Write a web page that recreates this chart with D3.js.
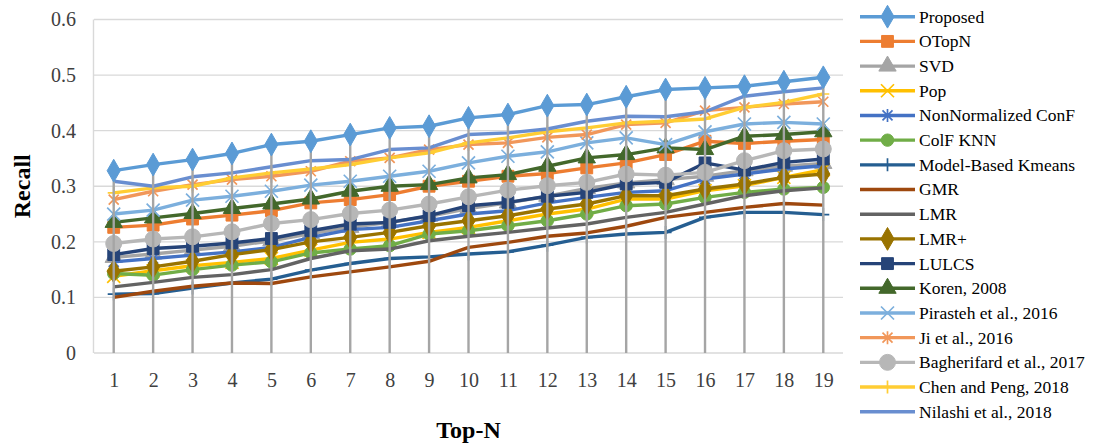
<!DOCTYPE html>
<html><head><meta charset="utf-8">
<script src="https://cdn.jsdelivr.net/npm/d3@7"></script>
<style>body{margin:0;background:#fff}svg{display:block}</style>
</head><body>
<svg id="chart" width="1101" height="445"></svg>
<script>
const categories = ["1","2","3","4","5","6","7","8","9","10","11","12","13","14","15","16","17","18","19"];
const yTicks = [0,0.1,0.2,0.3,0.4,0.5,0.6];
const seriesNames = ["Proposed","OTopN","SVD","Pop","NonNormalized ConF","ColF KNN","Model-Based Kmeans","GMR","LMR","LMR+","LULCS","Koren, 2008","Pirasteh et al., 2016","Ji et al., 2016","Bagherifard et al., 2017","Chen and Peng, 2018","Nilashi et al., 2018"];
const proposed   = [0.328,0.339,0.348,0.359,0.375,0.381,0.393,0.405,0.408,0.423,0.429,0.445,0.447,0.461,0.474,0.477,0.480,0.488,0.496];
const oTopN      = [0.226,0.230,0.241,0.248,0.256,0.270,0.276,0.285,0.300,0.309,0.318,0.323,0.333,0.342,0.357,0.381,0.377,0.381,0.384];
const svd        = [0.172,0.178,0.185,0.192,0.202,0.215,0.226,0.235,0.246,0.260,0.270,0.282,0.296,0.306,0.312,0.318,0.328,0.336,0.341];
const pop        = [0.138,0.148,0.157,0.163,0.170,0.185,0.199,0.205,0.217,0.226,0.238,0.250,0.259,0.277,0.277,0.292,0.301,0.316,0.330];
const nonNorm    = [0.164,0.170,0.176,0.182,0.190,0.208,0.222,0.226,0.238,0.250,0.256,0.270,0.280,0.289,0.292,0.313,0.322,0.331,0.337];
const colfKnn    = [0.143,0.140,0.150,0.158,0.164,0.180,0.187,0.193,0.214,0.220,0.229,0.238,0.250,0.265,0.268,0.280,0.289,0.295,0.298];
const kmeans     = [0.106,0.107,0.117,0.126,0.133,0.149,0.161,0.170,0.173,0.178,0.182,0.194,0.208,0.214,0.217,0.244,0.253,0.253,0.249];
const gmr        = [0.100,0.111,0.120,0.126,0.125,0.137,0.146,0.155,0.165,0.190,0.199,0.210,0.216,0.228,0.244,0.253,0.262,0.269,0.266];
const lmr        = [0.119,0.127,0.136,0.141,0.150,0.170,0.184,0.187,0.202,0.210,0.217,0.225,0.232,0.244,0.253,0.268,0.283,0.292,0.297];
const lmrPlus    = [0.147,0.155,0.165,0.177,0.186,0.200,0.208,0.217,0.229,0.238,0.247,0.259,0.268,0.283,0.283,0.295,0.304,0.316,0.322];
const lulcs      = [0.177,0.188,0.192,0.198,0.206,0.220,0.232,0.235,0.247,0.265,0.271,0.282,0.289,0.304,0.307,0.342,0.329,0.343,0.349];
const koren      = [0.235,0.243,0.251,0.260,0.268,0.277,0.291,0.300,0.303,0.315,0.321,0.336,0.351,0.357,0.369,0.366,0.390,0.393,0.398];
const pirasteh   = [0.250,0.257,0.275,0.282,0.291,0.302,0.309,0.318,0.327,0.342,0.354,0.362,0.378,0.387,0.375,0.398,0.412,0.415,0.412];
const ji         = [0.276,0.291,0.303,0.312,0.318,0.327,0.345,0.351,0.366,0.375,0.378,0.388,0.393,0.411,0.414,0.436,0.442,0.448,0.452];
const bagherifard= [0.197,0.205,0.209,0.218,0.233,0.240,0.251,0.257,0.268,0.281,0.293,0.301,0.307,0.322,0.320,0.325,0.346,0.364,0.367];
const chenPeng   = [0.288,0.297,0.300,0.315,0.324,0.331,0.339,0.351,0.360,0.378,0.387,0.398,0.405,0.414,0.417,0.421,0.442,0.451,0.466];
const nilashi    = [0.309,0.300,0.317,0.324,0.335,0.346,0.348,0.366,0.369,0.393,0.396,0.403,0.417,0.426,0.425,0.434,0.462,0.470,0.477];

const seriesValues = [proposed,oTopN,svd,pop,nonNorm,colfKnn,kmeans,gmr,lmr,lmrPlus,lulcs,koren,pirasteh,ji,bagherifard,chenPeng,nilashi];
const colors = ["#5B9BD5","#ED7D31","#A5A5A5","#FFC000","#4472C4","#70AD47","#255E91","#9E480E","#636363","#997300","#264478","#43682B","#7CAFDD","#F1975A","#B7B7B7","#FFCD33","#698ED0"];
const markers = ["diamond","square","triangle","x","asterisk","circle","plus","none","none","diamond","square","triangle","x","asterisk","bigcircle","plus","none"];

const svg = d3.select("#chart");
const font = "'Liberation Serif','Times New Roman',serif";
const pLeft = 94, pRight = 843, pTop = 19.5, pBottom = 353;
const x = d3.scalePoint().domain(categories).range([pLeft,pRight]).padding(0.5);
const y = d3.scaleLinear().domain([0,0.6]).range([pBottom,pTop]);

// gridlines
svg.append("g").selectAll("line").data(yTicks).join("line")
  .attr("x1",pLeft).attr("x2",pRight).attr("y1",d=>y(d)).attr("y2",d=>y(d))
  .attr("stroke","#d9d9d9").attr("stroke-width",1.4);
svg.append("line").attr("x1",pLeft-0.5).attr("x2",pLeft-0.5).attr("y1",y(0.6)).attr("y2",y(0))
  .attr("stroke","#d9d9d9").attr("stroke-width",1.4);

// axes
const yAxis = d3.axisLeft(y).tickValues(yTicks).tickSize(0).tickPadding(18).tickFormat(d=>d===0?"0":d3.format(".1f")(d));
const gy = svg.append("g").attr("transform",`translate(${pLeft},0)`).call(yAxis);
gy.select(".domain").remove();
gy.selectAll("text").attr("font-family",font).attr("font-size",20).attr("fill","#404040");
const xAxis = d3.axisBottom(x).tickSize(0).tickPadding(20);
const gx = svg.append("g").attr("transform",`translate(0,${pBottom})`).call(xAxis);
gx.select(".domain").remove();
gx.selectAll("text").attr("font-family",font).attr("font-size",20).attr("fill","#404040");

// titles
svg.append("text").attr("transform",`translate(30,${(pTop+pBottom)/2}) rotate(-90)`)
  .attr("text-anchor","middle").attr("font-family",font).attr("font-size",24).attr("font-weight","bold").attr("fill","#000").text("Recall");
svg.append("text").attr("x",(pLeft+pRight)/2).attr("y",438)
  .attr("text-anchor","middle").attr("font-family",font).attr("font-size",24).attr("font-weight","bold").attr("fill","#000").text("Top-N");

function markerPath(type){
  switch(type){
    case "diamond": return d3.symbol(d3.symbolDiamond, 150)();
    case "square": return d3.symbol(d3.symbolSquare, 140)();
    case "triangle": return d3.symbol(d3.symbolTriangle, 130)();
    case "circle": return d3.symbol(d3.symbolCircle, 120)();
    case "bigcircle": return d3.symbol(d3.symbolCircle, 200)();
    case "x": return "M-6.5,-6.5L6.5,6.5M-6.5,6.5L6.5,-6.5";
    case "asterisk": return "M-5,-5L5,5M-5,5L5,-5M0,-6.5L0,6.5";
    case "plus": return "M-6,0L6,0M0,-6.5L0,6.5";
  }
  return null;
}
const stroked = t => t==="x"||t==="asterisk"||t==="plus";

const line = d3.line().x((d,i)=>x(categories[i])).y(d=>y(d));

function drawSeries(g, k){
  const vals = seriesValues[k];
  g.append("path").attr("d",line(vals)).attr("fill","none")
    .attr("stroke",colors[k]).attr("stroke-width",3.4).attr("stroke-linejoin","round");
  const mp = markerPath(markers[k]);
  if(mp){
    g.selectAll("path.m").data(vals).join("path").attr("class","m")
      .attr("transform",(d,i)=>`translate(${x(categories[i])},${y(d)})`)
      .attr("d",mp)
      .attr("fill",stroked(markers[k])?"none":colors[k])
      .attr("stroke",colors[k]).attr("stroke-width",stroked(markers[k])?1.7:1);
  }
}
const plot = svg.append("g");
for(let k=1;k<seriesValues.length;k++) drawSeries(plot.append("g"),k);

// drop lines
const maxVals = categories.map((c,i)=>d3.max(seriesValues,s=>s[i]));
svg.append("g").selectAll("line").data(maxVals).join("line")
  .attr("x1",(d,i)=>x(categories[i])).attr("x2",(d,i)=>x(categories[i]))
  .attr("y1",d=>y(d)).attr("y2",y(0))
  .attr("stroke","#a5a5a5").attr("stroke-width",2.4);
drawSeries(svg.append("g"),0);

// legend
const lg = svg.append("g");
const lx0 = 860, lx1 = 915, ly0 = 16.7, lstep = 24.69;
seriesNames.forEach((name,k)=>{
  const yy = ly0 + k*lstep;
  const g = lg.append("g").attr("transform",`translate(0,${yy})`);
  g.append("line").attr("x1",lx0).attr("x2",lx1).attr("y1",0).attr("y2",0)
    .attr("stroke",colors[k]).attr("stroke-width",3.4);
  const mp = markerPath(markers[k]);
  if(mp){
    g.append("path").attr("transform",`translate(${(lx0+lx1)/2},0)`).attr("d",mp)
      .attr("fill",stroked(markers[k])?"none":colors[k])
      .attr("stroke",colors[k]).attr("stroke-width",stroked(markers[k])?1.7:1);
  }
  g.append("text").attr("x",919).attr("y",0).attr("dy","0.34em")
    .attr("font-family",font).attr("font-size",17.5).attr("fill","#000").text(name);
});
</script>
</body></html>
